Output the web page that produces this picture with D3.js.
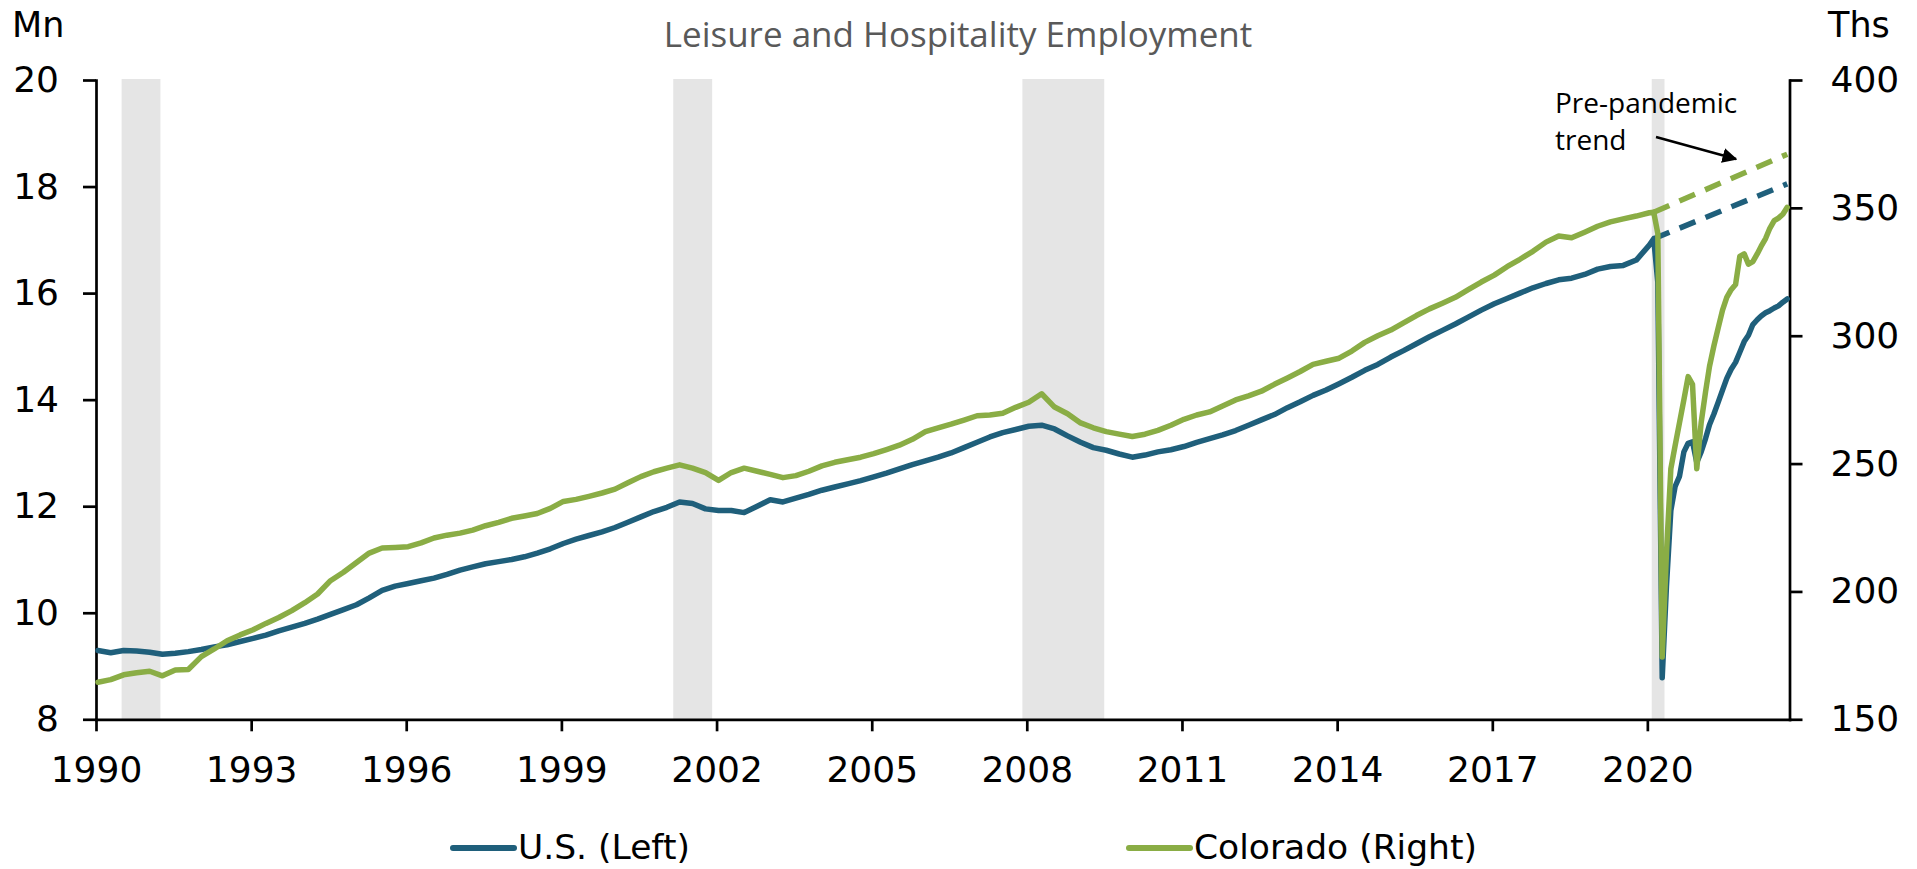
<!DOCTYPE html>
<html>
<head>
<title>Leisure and Hospitality Employment</title>
<script src="https://cdn.jsdelivr.net/npm/d3@7"></script>
<style>
  body { margin: 0; background: #fff; }
  svg { display: block; }
</style>
</head>
<body>
<div id="chart"></div>
<script type="text/javascript">

  // quarterly readings 1990-2019, then monthly from 2020
  const months = [
    "1990-01","1990-04","1990-07","1990-10","1991-01","1991-04","1991-07","1991-10",
    "1992-01","1992-04","1992-07","1992-10","1993-01","1993-04","1993-07","1993-10",
    "1994-01","1994-04","1994-07","1994-10","1995-01","1995-04","1995-07","1995-10",
    "1996-01","1996-04","1996-07","1996-10","1997-01","1997-04","1997-07","1997-10",
    "1998-01","1998-04","1998-07","1998-10","1999-01","1999-04","1999-07","1999-10",
    "2000-01","2000-04","2000-07","2000-10","2001-01","2001-04","2001-07","2001-10",
    "2002-01","2002-04","2002-07","2002-10","2003-01","2003-04","2003-07","2003-10",
    "2004-01","2004-04","2004-07","2004-10","2005-01","2005-04","2005-07","2005-10",
    "2006-01","2006-04","2006-07","2006-10","2007-01","2007-04","2007-07","2007-10",
    "2008-01","2008-04","2008-07","2008-10","2009-01","2009-04","2009-07","2009-10",
    "2010-01","2010-04","2010-07","2010-10","2011-01","2011-04","2011-07","2011-10",
    "2012-01","2012-04","2012-07","2012-10","2013-01","2013-04","2013-07","2013-10",
    "2014-01","2014-04","2014-07","2014-10","2015-01","2015-04","2015-07","2015-10",
    "2016-01","2016-04","2016-07","2016-10","2017-01","2017-04","2017-07","2017-10",
    "2018-01","2018-04","2018-07","2018-10","2019-01","2019-04","2019-07","2019-10",
    "2020-01","2020-02","2020-03","2020-04","2020-05","2020-06","2020-07","2020-08",
    "2020-09","2020-10","2020-11","2020-12","2021-01","2021-02","2021-03","2021-04",
    "2021-05","2021-06","2021-07","2021-08","2021-09","2021-10","2021-11","2021-12",
    "2022-01","2022-02","2022-03","2022-04","2022-05","2022-06","2022-07","2022-08",
    "2022-09"
  ];

  // U.S., millions (left axis)
  const usValues = [
    9.29, 9.25, 9.29, 9.28, 9.26, 9.22, 9.24, 9.27,
    9.31, 9.36, 9.40, 9.46, 9.52, 9.58, 9.66, 9.73,
    9.80, 9.88, 9.97, 10.06, 10.15, 10.28, 10.42, 10.50,
    10.55, 10.60, 10.65, 10.72, 10.80, 10.86, 10.92, 10.96,
    11.00, 11.05, 11.12, 11.20, 11.30, 11.38, 11.45, 11.52,
    11.60, 11.70, 11.80, 11.90, 11.98, 12.08, 12.05, 11.95,
    11.92, 11.92, 11.88, 12.00, 12.12, 12.08, 12.15, 12.22,
    12.30, 12.36, 12.42, 12.48, 12.55, 12.62, 12.70, 12.78,
    12.85, 12.92, 13.00, 13.10, 13.20, 13.30, 13.38, 13.44,
    13.50, 13.52, 13.45, 13.32, 13.20, 13.10, 13.05, 12.98,
    12.92, 12.96, 13.02, 13.06, 13.12, 13.20, 13.27, 13.34,
    13.42, 13.52, 13.62, 13.72, 13.85, 13.96, 14.08, 14.18,
    14.30, 14.42, 14.55, 14.66, 14.80, 14.92, 15.05, 15.18,
    15.30, 15.42, 15.55, 15.68, 15.80, 15.90, 16.00, 16.10,
    16.18, 16.25, 16.28, 16.35, 16.45, 16.50, 16.52, 16.62,
    16.90, 17.02, 16.20, 8.78, 10.50, 11.92, 12.37, 12.56,
    13.02, 13.18, 13.21, 12.82, 13.02, 13.27, 13.53, 13.73,
    13.95, 14.18, 14.40, 14.57, 14.70, 14.89, 15.09, 15.21,
    15.41, 15.50, 15.57, 15.63, 15.67, 15.72, 15.76, 15.83,
    15.89
  ];

  // Colorado, thousands (right axis)
  const coValues = [
    164.5, 165.5, 167.4, 168.2, 168.8, 167.0, 169.3, 169.5,
    174.5, 177.5, 180.7, 183.0, 185.0, 187.5, 189.8, 192.5,
    195.6, 199.0, 204.2, 207.5, 211.3, 215.0, 217.0, 217.2,
    217.5, 219.0, 220.9, 222.0, 222.8, 224.0, 225.7, 227.0,
    228.6, 229.5, 230.5, 232.5, 235.2, 236.0, 237.2, 238.5,
    240.0, 242.5, 244.9, 246.8, 248.2, 249.5, 248.2, 246.5,
    243.4, 246.5, 248.2, 247.0, 245.8, 244.5, 245.3, 247.0,
    249.1, 250.5, 251.5, 252.5, 253.9, 255.5, 257.2, 259.5,
    262.5, 264.0, 265.4, 267.0, 268.7, 269.0, 269.7, 272.0,
    274.0, 277.3, 272.1, 269.5, 265.9, 264.0, 262.5, 261.5,
    260.6, 261.5, 263.0, 265.0, 267.3, 269.0, 270.2, 272.5,
    274.9, 276.5, 278.3, 281.0, 283.5, 286.0, 288.8, 290.0,
    291.2, 294.0, 297.4, 300.0, 302.2, 305.0, 307.9, 310.5,
    312.7, 315.0, 318.0, 321.0, 323.7, 327.0, 329.9, 333.0,
    336.6, 339.0, 338.3, 340.5, 342.8, 344.5, 345.7, 346.8,
    348.1, 348.3, 340.0, 174.4, 215.0, 248.0, 257.0, 266.0,
    275.0, 284.0, 281.0, 248.0, 266.0, 278.0, 288.0, 296.0,
    303.0, 310.0, 315.0, 318.0, 320.0, 331.0, 332.0, 328.0,
    329.0, 332.0, 335.0, 338.0, 342.0, 345.0, 346.0, 347.5,
    350.2
  ];

  // pre-pandemic trend
  const trendMonths = ["2020-02", "2022-09"];
  const usTrend = [17.02, 18.05];
  const coTrend = [348.3, 371.0];

  const recessions = [
    ["1990-07", "1991-03"], ["2001-03", "2001-11"],
    ["2007-12", "2009-06"], ["2020-02", "2020-04"]
  ];

  const tickYears = [1990, 1993, 1996, 1999, 2002, 2005, 2008, 2011, 2014, 2017, 2020];
  const leftTicks = [8, 10, 12, 14, 16, 18, 20];
  const rightTicks = [150, 200, 250, 300, 350, 400];

  const W = 1917, H = 869;
  const plotLeft = 96, plotRight = 1789.5, plotTop = 80, plotBottom = 719.3;
  const blue = "#1f5f7b", green = "#8aad45";
  const tickFont = "'DejaVu Sans', sans-serif";

  const parseMonth = d3.timeParse("%Y-%m");
  const midMonth = s => d3.timeDay.offset(parseMonth(s), 14);

  const x = d3.scaleTime()
    .domain([new Date(1990, 0, 1), new Date(2022, 9, 1)])
    .range([plotLeft, plotRight]);
  const yL = d3.scaleLinear().domain([8, 20]).range([plotBottom, plotTop]);
  const yR = d3.scaleLinear().domain([150, 400]).range([plotBottom, plotTop]);

  const svg = d3.select("#chart").append("svg")
    .attr("width", W)
    .attr("height", H);

  // recession shading
  svg.append("g").selectAll("rect")
    .data(recessions)
    .join("rect")
    .attr("x", d => x(parseMonth(d[0])))
    .attr("width", d => x(d3.timeMonth.offset(parseMonth(d[1]), 1)) - x(parseMonth(d[0])))
    .attr("y", plotTop - 1)
    .attr("height", plotBottom - plotTop + 1)
    .attr("fill", "#e5e5e5");

  // axes
  const styleAxis = (g) => {
    g.selectAll("path, line").attr("stroke", "#000").attr("stroke-width", 2.7);
    g.selectAll("text")
      .attr("fill", "#000")
      .style("font-family", tickFont)
      .style("font-size", "36px");
  };

  svg.append("g")
    .attr("transform", `translate(${plotLeft},0)`)
    .call(d3.axisLeft(yL).tickValues(leftTicks).tickSize(13).tickSizeOuter(0).tickPadding(24))
    .call(styleAxis);

  svg.append("g")
    .attr("transform", `translate(${plotRight},0)`)
    .call(d3.axisRight(yR).tickValues(rightTicks).tickSize(13).tickSizeOuter(0).tickPadding(28))
    .call(styleAxis);

  svg.append("g")
    .attr("transform", `translate(0,${plotBottom})`)
    .call(d3.axisBottom(x)
      .tickValues(tickYears.map(yr => new Date(yr, 0, 1)))
      .tickFormat(d3.timeFormat("%Y"))
      .tickSize(12).tickSizeOuter(0).tickPadding(25))
    .call(styleAxis);

  svg.selectAll(".domain").attr("stroke-linecap", "square");

  // series
  const rows = months.map((m, i) => ({ date: midMonth(m), us: usValues[i], co: coValues[i] }));
  const trendRows = trendMonths.map((m, i) => ({ date: midMonth(m), us: usTrend[i], co: coTrend[i] }));

  const usLine = d3.line().x(d => x(d.date)).y(d => yL(d.us));
  const coLine = d3.line().x(d => x(d.date)).y(d => yR(d.co));

  svg.append("path")
    .datum(trendRows)
    .attr("d", coLine)
    .attr("fill", "none")
    .attr("stroke", green)
    .attr("stroke-width", 5.5)
    .attr("stroke-dasharray", "17 11");

  svg.append("path")
    .datum(trendRows)
    .attr("d", usLine)
    .attr("fill", "none")
    .attr("stroke", blue)
    .attr("stroke-width", 5.5)
    .attr("stroke-dasharray", "17 11");

  svg.append("path")
    .datum(rows)
    .attr("d", usLine)
    .attr("fill", "none")
    .attr("stroke", blue)
    .attr("stroke-width", 5.5)
    .attr("stroke-linejoin", "round")
    .attr("stroke-linecap", "round");

  svg.append("path")
    .datum(rows)
    .attr("d", coLine)
    .attr("fill", "none")
    .attr("stroke", green)
    .attr("stroke-width", 5.5)
    .attr("stroke-linejoin", "round")
    .attr("stroke-linecap", "round");

  // titles and unit labels
  svg.append("text")
    .attr("x", 958).attr("y", 47)
    .attr("text-anchor", "middle")
    .attr("fill", "#595959")
    .style("font-family", "'Open Sans', sans-serif")
    .style("font-size", "35px")
    .text("Leisure and Hospitality Employment");

  svg.append("text")
    .attr("x", 12).attr("y", 37)
    .style("font-family", "'DejaVu Sans', sans-serif")
    .style("font-size", "35px")
    .text("Mn");

  svg.append("text")
    .attr("x", 1828).attr("y", 37)
    .style("font-family", "'DejaVu Sans', sans-serif")
    .style("font-size", "35px")
    .text("Ths");

  // annotation
  const note = svg.append("text")
    .attr("x", 1555).attr("y", 113)
    .style("font-family", "'Open Sans', sans-serif")
    .style("font-size", "28px");
  note.append("tspan").attr("x", 1555).attr("dy", 0).text("Pre-pandemic");
  note.append("tspan").attr("x", 1555).attr("dy", 37).text("trend");

  svg.append("defs").append("marker")
    .attr("id", "arrow")
    .attr("viewBox", "0 0 10 10")
    .attr("refX", 9).attr("refY", 5)
    .attr("markerWidth", 6).attr("markerHeight", 6)
    .attr("markerUnits", "strokeWidth")
    .attr("orient", "auto")
    .append("path")
    .attr("d", "M0,0 L10,5 L0,10 z")
    .attr("fill", "#000");

  svg.append("line")
    .attr("x1", 1656).attr("y1", 137)
    .attr("x2", 1736).attr("y2", 159)
    .attr("stroke", "#000")
    .attr("stroke-width", 2.5)
    .attr("marker-end", "url(#arrow)");

  // legend
  const legend = [
    { label: "U.S. (Left)", color: blue, x: 453 },
    { label: "Colorado (Right)", color: green, x: 1129 }
  ];
  const lg = svg.append("g").selectAll("g")
    .data(legend)
    .join("g");
  lg.append("line")
    .attr("x1", d => d.x).attr("x2", d => d.x + 61)
    .attr("y1", 848).attr("y2", 848)
    .attr("stroke", d => d.color)
    .attr("stroke-width", 6)
    .attr("stroke-linecap", "round");
  lg.append("text")
    .attr("x", d => d.x + 65).attr("y", 859)
    .style("font-family", tickFont)
    .style("font-size", "34.5px")
    .text(d => d.label);

</script>
</body>
</html>
